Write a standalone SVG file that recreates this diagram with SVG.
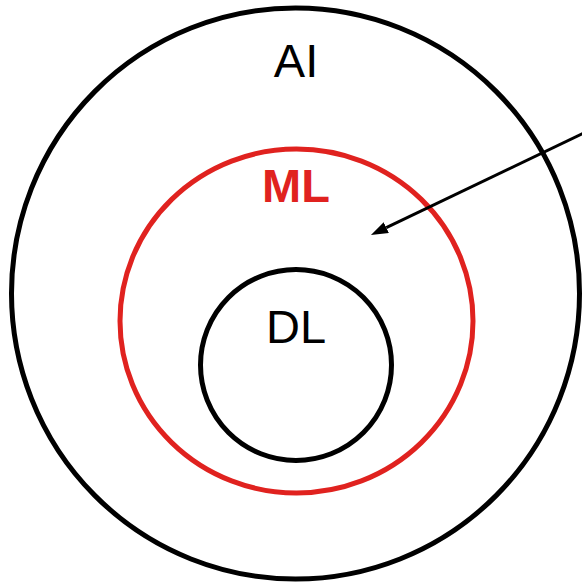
<svg xmlns="http://www.w3.org/2000/svg" width="582" height="582" viewBox="0 0 582 582">
  <style>
    .ring { fill: none; stroke-width: 5; }
    .lbl { font-family: "Liberation Sans", Arial, sans-serif; font-size: 47px; text-anchor: middle; }
  </style>
  <defs>
    <marker id="arrow" markerUnits="userSpaceOnUse" markerWidth="17" markerHeight="12" refX="0" refY="6" orient="auto">
      <path d="M0,0 L17,6 L0,12 z" fill="#000"/>
    </marker>
  </defs>
  <rect width="582" height="582" fill="#fff"/>
  <g id="ai">
    <ellipse class="ring" cx="295.5" cy="293.5" rx="284" ry="285.5" stroke="#000"/>
    <text class="lbl" x="296" y="77" fill="#000">AI</text>
  </g>
  <g id="ml">
    <ellipse class="ring" cx="296.5" cy="321" rx="176.5" ry="172" stroke="#e0221f"/>
    <text class="lbl" x="296" y="202" fill="#e0221f" font-weight="bold">ML</text>
  </g>
  <g id="dl">
    <circle class="ring" cx="296" cy="365" r="95.5" stroke="#000"/>
    <text class="lbl" x="296" y="343" fill="#000">DL</text>
  </g>
  <g id="connectors">
    <line x1="584" y1="133" x2="386.3" y2="227.7" stroke="#000" stroke-width="3" marker-end="url(#arrow)"/>
  </g>
</svg>
